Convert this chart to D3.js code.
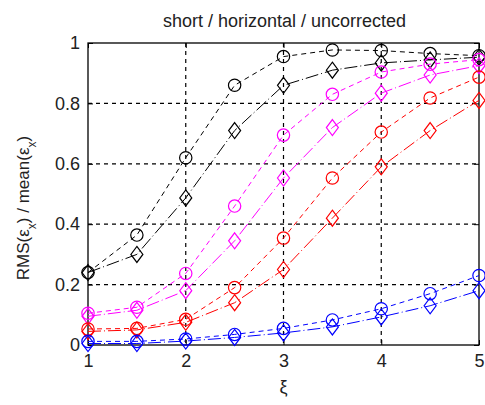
<!DOCTYPE html>
<html>
<head>
<meta charset="utf-8">
<script src="https://cdn.jsdelivr.net/npm/d3@7"></script>
<style>
  body { margin: 0; background: #fff; }
  text { font-family: "Liberation Sans", Arial, sans-serif; }
</style>
</head>
<body>
<div id="chart"></div>
<script>
// data
const xi = [1, 1.5, 2, 2.5, 3, 3.5, 4, 4.5, 5];

const blackCircle   = [0.24, 0.364, 0.62, 0.86, 0.955, 0.977, 0.975, 0.965, 0.958];
const blackDiamond  = [0.24, 0.30, 0.487, 0.71, 0.86, 0.91, 0.934, 0.944, 0.953];
const magentaCircle = [0.105, 0.125, 0.237, 0.46, 0.695, 0.83, 0.904, 0.93, 0.945];
const magentaDiamond= [0.095, 0.115, 0.18, 0.345, 0.553, 0.72, 0.834, 0.894, 0.925];
const redCircle     = [0.053, 0.055, 0.085, 0.19, 0.354, 0.553, 0.705, 0.818, 0.887];
const redDiamond    = [0.045, 0.05, 0.075, 0.14, 0.25, 0.42, 0.59, 0.71, 0.81];
const blueCircle    = [0.012, 0.012, 0.02, 0.035, 0.055, 0.083, 0.12, 0.17, 0.23];
const blueDiamond   = [0.005, 0.005, 0.013, 0.025, 0.04, 0.06, 0.093, 0.13, 0.18];

const xTicks = [1, 2, 3, 4, 5];
const yTicks = [0, 0.2, 0.4, 0.6, 0.8, 1];

const series = [
  {vals: blackCircle, color: "#000", marker: "circle"},
  {vals: blackDiamond, color: "#000", marker: "diamond"},
  {vals: magentaCircle, color: "#ff00ff", marker: "circle"},
  {vals: magentaDiamond, color: "#ff00ff", marker: "diamond"},
  {vals: redCircle, color: "#ff0000", marker: "circle"},
  {vals: redDiamond, color: "#ff0000", marker: "diamond"},
  {vals: blueCircle, color: "#0000ff", marker: "circle"},
  {vals: blueDiamond, color: "#0000ff", marker: "diamond"}
];

const W = 485, H = 405;
const mLeft = 88, mRight = 479, mTop = 43, mBottom = 345;

const svg = d3.select("#chart").append("svg")
  .attr("width", W).attr("height", H);

const x = d3.scaleLinear().domain([1, 5]).range([mLeft, mRight]);
const y = d3.scaleLinear().domain([0, 1]).range([mBottom, mTop]);

// grid
const grid = svg.append("g").attr("stroke", "#000").attr("stroke-dasharray", "4,4").attr("stroke-width", 1.2);
xTicks.slice(1, -1).forEach(t => {
  grid.append("line").attr("x1", x(t)).attr("x2", x(t)).attr("y1", mTop).attr("y2", mBottom);
});
yTicks.slice(1, -1).forEach(t => {
  grid.append("line").attr("x1", mLeft).attr("x2", mRight).attr("y1", y(t)).attr("y2", y(t));
});

// axes (ticks inside, box)
const fontSize = 18;
const gx = svg.append("g").attr("transform", `translate(0,${mBottom})`)
  .call(d3.axisBottom(x).tickValues(xTicks).tickSize(-5).tickPadding(9).tickFormat(d3.format("d")));
const gxTop = svg.append("g").attr("transform", `translate(0,${mTop})`)
  .call(d3.axisTop(x).tickValues(xTicks).tickSize(-5).tickFormat(""));
const gy = svg.append("g").attr("transform", `translate(${mLeft},0)`)
  .call(d3.axisLeft(y).tickValues(yTicks).tickSize(-5).tickPadding(8).tickFormat(d => d === 0 || d === 1 ? d3.format("d")(d) : d3.format(".1f")(d)));
const gyR = svg.append("g").attr("transform", `translate(${mRight},0)`)
  .call(d3.axisRight(y).tickValues(yTicks).tickSize(-5).tickFormat(""));
[gx, gxTop, gy, gyR].forEach(g => {
  g.select(".domain").remove();
  g.selectAll("line").attr("stroke", "#000");
  g.selectAll("text").attr("font-size", fontSize).attr("fill", "#222")
    .attr("font-family", "'Liberation Sans', Arial, sans-serif");
});
svg.append("rect").attr("x", mLeft).attr("y", mTop)
  .attr("width", mRight - mLeft).attr("height", mBottom - mTop)
  .attr("fill", "none").attr("stroke", "#000").attr("stroke-width", 1.3);

// series
const line = d3.line().x((d, i) => x(xi[i])).y(d => y(d));
const sym = {
  circle: d3.symbol().type(d3.symbolCircle).size(Math.PI * 38)(),
  diamond: "M0,-8L6,0L0,8L-6,0Z"
};
series.forEach(s => {
  svg.append("path").datum(s.vals)
    .attr("d", line).attr("fill", "none")
    .attr("stroke", s.color).attr("stroke-width", 1)
    .attr("stroke-dasharray", s.marker === "circle" ? "5,4" : "13,3,1,3");
  svg.append("g").selectAll("path").data(s.vals).join("path")
    .attr("transform", (d, i) => `translate(${x(xi[i])},${y(d)})`)
    .attr("d", sym[s.marker])
    .attr("fill", "none").attr("stroke", s.color).attr("stroke-width", 1.2);
});

// title and labels
svg.append("text").attr("x", (mLeft + mRight) / 2 + 1).attr("y", 27)
  .attr("text-anchor", "middle").attr("font-size", 18).attr("fill", "#222")
  .text("short / horizontal / uncorrected");

svg.append("text").attr("x", (mLeft + mRight) / 2).attr("y", 393)
  .attr("text-anchor", "middle").attr("font-size", 18).attr("fill", "#222")
  .text("ξ");

const yl = svg.append("text")
  .attr("transform", `translate(29,${(mTop + mBottom) / 2 + 14}) rotate(-90)`)
  .attr("text-anchor", "middle").attr("font-size", 17).attr("fill", "#222");
yl.append("tspan").text("RMS(ε");
yl.append("tspan").attr("baseline-shift", "sub").attr("font-size", 12).text("x");
yl.append("tspan").text(") / mean(ε");
yl.append("tspan").attr("baseline-shift", "sub").attr("font-size", 12).text("x");
yl.append("tspan").text(")");
</script>
</body>
</html>
